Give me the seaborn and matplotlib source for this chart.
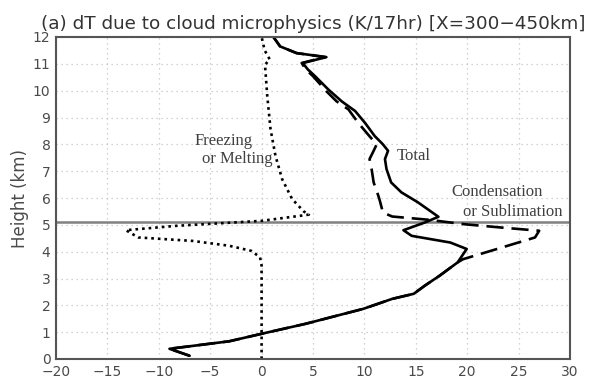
import numpy as np
import pandas as pd
import matplotlib
matplotlib.use("Agg")
import matplotlib.pyplot as plt
import seaborn as sns

# ---- data ----
total_h = [0.12, 0.38, 0.66, 0.94, 1.31, 1.87, 2.24, 2.43, 2.74, 3.1, 3.6, 4.1, 4.34, 4.59,
           4.8, 5.09, 5.3, 5.84, 6.21, 6.58, 7.08, 7.45, 7.76, 8.0, 8.31, 8.8, 9.24, 9.6,
           10.04, 10.54, 10.79, 11.03, 11.25, 11.4, 11.65, 12.0]
total_v = [-7.0, -8.96, -3.15, 0.0, 4.26, 9.9, 12.7, 14.8, 15.9, 17.3, 19.07, 19.95, 18.36, 14.6,
           13.8, 15.9, 17.2, 15.2, 13.6, 12.6, 12.15, 12.0, 12.3, 11.8, 11.0, 10.06, 9.1, 7.8,
           6.5, 5.2, 4.5, 4.0, 6.3, 3.4, 1.8, 1.15]

cond_h = [0.12, 0.38, 0.66, 0.94, 1.31, 1.87, 2.24, 2.43, 2.74, 3.1, 3.6, 3.72, 4.1, 4.53,
          4.78, 4.9, 5.02, 5.19, 5.31, 5.46, 5.9, 6.09, 6.58, 7.08, 7.45, 7.76, 8.0, 8.3,
          8.8, 9.3, 9.6, 9.98, 10.54, 10.79, 11.03, 11.25, 11.4, 11.65, 12.0]
cond_v = [-7.0, -8.96, -3.15, 0.0, 4.26, 9.9, 12.7, 14.8, 15.9, 17.3, 19.07, 19.6, 22.9, 26.6,
          27.0, 23.3, 19.8, 16.2, 12.7, 11.8, 11.5, 11.35, 10.9, 10.7, 10.5, 10.9, 11.2, 10.5,
          9.4, 8.45, 7.3, 6.3, 5.0, 4.3, 3.9, 6.2, 3.4, 1.8, 1.15]

frz_h = [0.0, 3.48, 3.79, 4.03, 4.22, 4.4, 4.53, 4.8, 4.96, 5.15, 5.38, 5.5, 5.96, 6.7,
         7.57, 8.56, 9.8, 10.97, 11.16, 11.5, 12.0]
frz_v = [0.0, 0.0, -0.15, -1.0, -3.15, -6.7, -12.0, -13.2, -8.4, 0.03, 4.6, 4.1, 2.97, 2.0,
         1.35, 0.87, 0.55, 0.33, 0.8, 0.3, 0.0]

x_ticks = [-20, -15, -10, -5, 0, 5, 10, 15, 20, 25, 30]
y_ticks = list(range(0, 13))
freezing_level = 5.1

title = "(a) dT due to cloud microphysics (K/17hr) [X=300\u2212450km]"

df_total = pd.DataFrame({"h": total_h, "v": total_v})
df_cond = pd.DataFrame({"h": cond_h, "v": cond_v})
df_frz = pd.DataFrame({"h": frz_h, "v": frz_v})

sns.set_theme(style="white")
plt.rcParams["font.family"] = ["DejaVu Sans"]

fig = plt.figure(figsize=(5.99, 3.79), dpi=100)
# axes: left 56px, right 570px, top 37px, bottom 359px
ax = fig.add_axes([56 / 599, 20 / 379, 514 / 599, 322 / 379])

tick_col = "#4a4a4a"
ax.grid(True, linestyle=(0, (1, 3)), color="#c4c4c4", linewidth=0.9)
ax.set_axisbelow(True)

ax.axhline(freezing_level, color="#808080", linewidth=1.8, zorder=1)

sns.lineplot(data=df_frz, x="v", y="h", orient="y", sort=False, estimator=None,
             color="black", linewidth=1.9, linestyle=(0, (1, 1.5)), ax=ax)
sns.lineplot(data=df_cond, x="v", y="h", orient="y", sort=False, estimator=None,
             color="black", linewidth=1.9, linestyle=(0, (6.5, 3)), ax=ax)
sns.lineplot(data=df_total, x="v", y="h", orient="y", sort=False, estimator=None,
             color="black", linewidth=1.9, ax=ax)

ax.set_xlim(-20, 30)
ax.set_ylim(0, 12)
ax.set_xticks(x_ticks)
ax.set_yticks(y_ticks)
ax.set_xticklabels([f"{t}".replace("-", "\u2212") for t in x_ticks])
ax.tick_params(axis="both", direction="out", length=3, width=1, colors=tick_col,
               labelsize=10, pad=1)
ax.set_xlabel("")
ax.set_ylabel("Height (km)", fontsize=12, color=tick_col, labelpad=3)
for s in ax.spines.values():
    s.set_color("#555555")
    s.set_linewidth(1.5)
    s.set_visible(True)

ax.set_title(title, fontsize=13.2, color="#333333", pad=5.5)

serif = ["Liberation Serif", "DejaVu Serif"]
tcol = "#404040"
ax.text(-6.5, 8.13, "Freezing", family=serif, fontsize=12, color=tcol, ha="left", va="center")
ax.text(-5.75, 7.45, "or Melting", family=serif, fontsize=12, color=tcol, ha="left", va="center")
ax.text(13.1, 7.57, "Total", family=serif, fontsize=12, color=tcol, ha="left", va="center")
ax.text(18.5, 6.22, "Condensation", family=serif, fontsize=12, color=tcol, ha="left", va="center")
ax.text(19.6, 5.47, "or Sublimation", family=serif, fontsize=12, color=tcol, ha="left", va="center")

fig.savefig("out.png", dpi=100)
